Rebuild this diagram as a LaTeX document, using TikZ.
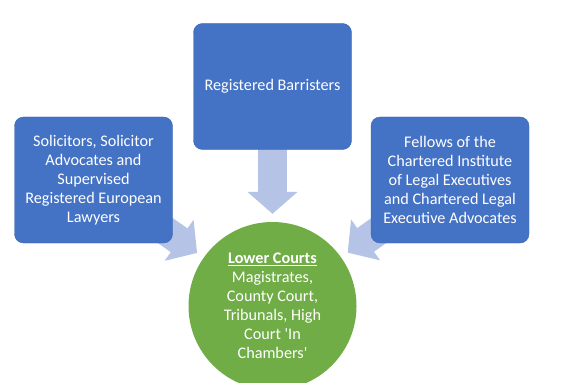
\documentclass[tikz,border=0pt]{standalone}
\usepackage{fontspec}
\setmainfont{Carlito}
\usetikzlibrary{arrows.meta,backgrounds}
\definecolor{boxblue}{HTML}{4472C4}
\definecolor{boxedge}{HTML}{3B64AE}
\definecolor{courtgreen}{HTML}{70AD47}
\definecolor{arrowblue}{HTML}{B4C3E6}
\tikzset{
  panel/.style={draw=boxedge, fill=boxblue, rounded corners=9pt, text=white,
    minimum width=158pt, minimum height=126pt, align=center,
    font=\fontsize{16.2}{19}\selectfont},
  courtdisc/.style={circle, fill=courtgreen, text=white, minimum size=168pt,
    inner sep=0pt, align=center, font=\fontsize{16.2}{19}\selectfont},
  feed/.style={arrowblue, line width=29pt, shorten >=8pt,
    -{Triangle[length=22pt,width=49pt]}}
}
\begin{document}
\begin{tikzpicture}[x=1pt,y=-1pt]
  \useasboundingbox (0,0) rectangle (577,382);
  \begin{scope}
    \clip (0,0) rectangle (577,382);
    \node[courtdisc] (court) at (272.5,306)
      {\underline{\textbf{Lower Courts}}\\Magistrates,\\County Court,\\Tribunals, High\\Court \textquotesingle In\\Chambers\textquotesingle};
  \end{scope}
  \node[panel] (barr) at (272.5,86.5) {Registered Barristers};
  \node[panel] (sol) at (93.5,180)
    {Solicitors, Solicitor\\Advocates and\\Supervised\\Registered European\\Lawyers};
  \node[panel] (cilex) at (450,180)
    {Fellows of the\\Chartered Institute\\of Legal Executives\\and Chartered Legal\\Executive Advocates};
  \begin{scope}[on background layer]
    \draw[feed] (barr.center) -- (court);
    \draw[feed] (sol.center) -- (court);
    \draw[feed] (cilex.center) -- (court);
  \end{scope}
\end{tikzpicture}
\end{document}
